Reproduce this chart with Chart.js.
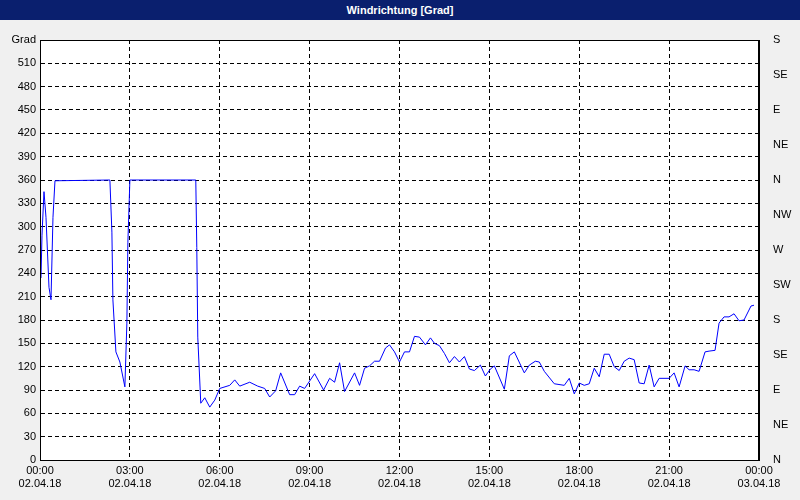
<!DOCTYPE html>
<html><head><meta charset="utf-8">
<script src="https://cdn.jsdelivr.net/npm/chart.js@4"></script>
<style>
body{margin:0;background:#f0f0f0;width:800px;height:500px;overflow:hidden}
#bar{height:20px;background:#0a1f6e;color:#fff;font:bold 11px "Liberation Sans",sans-serif;text-align:center;line-height:20px}
</style></head><body>
<div id="bar">Windrichtung [Grad]</div>
<canvas id="c" width="800" height="480"></canvas>
<script>
var minutes = [2,4,8,12,18,22,26,30,140,144,146,152,160,170,174,176,180,312,314,316,322,330,340,350,360,380,390,400,420,436,450,460,472,482,500,510,520,530,550,568,580,590,600,610,630,640,650,660,670,680,692,700,710,720,730,740,750,760,772,782,790,800,810,820,830,840,850,860,870,882,892,902,910,930,940,950,970,980,992,1000,1010,1030,1050,1060,1070,1080,1090,1100,1110,1120,1130,1140,1150,1160,1170,1180,1190,1200,1210,1220,1230,1240,1260,1270,1280,1292,1300,1310,1320,1332,1340,1352,1360,1370,1380,1390,1400,1410,1424,1430];
var degrees = [234,289,345,312,222,206,312,359,360,293,206,139,126,94,176,280,360,360,273,158,73,80,68,77,92,96,103,95,100,95,92,81,89,112,84,84,95,92,111,90,105,100,125,88,112,96,118,121,127,127,144,148,139,126,139,139,159,158,148,157,150,147,137,125,133,126,133,117,115,122,108,117,121,91,134,139,112,122,127,126,114,98,96,105,85,99,96,98,118,107,136,136,120,115,127,131,129,99,98,122,94,105,105,112,94,121,116,116,114,139,140,141,176,184,184,188,179,180,198,199];
var timeLabels = ['00:00','03:00','06:00','09:00','12:00','15:00','18:00','21:00','00:00'];
var dateLabels = ['02.04.18','02.04.18','02.04.18','02.04.18','02.04.18','02.04.18','02.04.18','02.04.18','03.04.18'];
var compass = ['N','NE','E','SE','S','SW','W','NW','N','NE','E','SE','S'];

var points = minutes.map((m, i) => ({x: m, y: degrees[i]}));
var font = {family: 'Liberation Sans', size: 11};
var grid = {color: '#000', drawTicks: false};

var plotBg = {
    id: 'plotBg',
    beforeDraw: function (chart) {
        var a = chart.chartArea, ctx = chart.ctx;
        ctx.fillStyle = '#fff';
        ctx.fillRect(a.left, a.top, a.right - a.left, a.bottom - a.top);
    },
    afterDraw: function (chart) {
        // solid frame around the plot
        var a = chart.chartArea, ctx = chart.ctx;
        ctx.save();
        ctx.strokeStyle = '#000';
        ctx.lineWidth = 1;
        ctx.setLineDash([]);
        ctx.strokeRect(Math.round(a.left) + 0.5, Math.round(a.top) + 0.5, Math.round(a.right - a.left) - 1, Math.round(a.bottom - a.top));
        ctx.restore();
    }
};

window.onload = function () {
var config = {
    type: 'line',
    data: {
        datasets: [{
            data: points,
            borderColor: '#0000ff',
            borderWidth: 1,
            pointRadius: 0,
            tension: 0,
            fill: false
        }]
    },
    options: {
        responsive: false,
        animation: false,
        layout: {padding: {top: 20}},
        plugins: {legend: {display: false}, tooltip: {enabled: false}},
        scales: {
            x: {
                type: 'linear', min: 0, max: 1440,
                grid: grid,
                border: {color: '#000', width: 1, dash: [4, 3]},
                afterFit: function (s) { s.height = 40; },
                afterBuildTicks: function (s) { s.ticks = timeLabels.map((t, i) => ({value: i * 180})); },
                ticks: {
                    color: '#000', font: font, padding: 4, maxRotation: 0, autoSkip: false,
                    callback: function (v) { var i = v / 180; return [timeLabels[i], dateLabels[i]]; }
                }
            },
            y: {
                position: 'left', min: 0, max: 540,
                grid: grid,
                border: {color: '#000', width: 1, dash: [4, 3]},
                afterFit: function (s) { s.width = 40; },
                ticks: {
                    stepSize: 30, color: '#000', font: font, padding: 4,
                    callback: function (v) { return v === 540 ? 'Grad' : v; }
                }
            },
            y2: {
                position: 'right', min: 0, max: 540,
                grid: {display: false},
                border: {color: '#000', width: 1},
                afterFit: function (s) { s.width = 41; },
                ticks: {
                    stepSize: 45, color: '#000', font: font, padding: 6,
                    callback: function (v) { return compass[v / 45]; }
                }
            }
        }
    },
    plugins: [plotBg]
};
var ctx = document.getElementById('c').getContext('2d');
window.myLine = new Chart(ctx, config);
};
</script>
</body></html>
